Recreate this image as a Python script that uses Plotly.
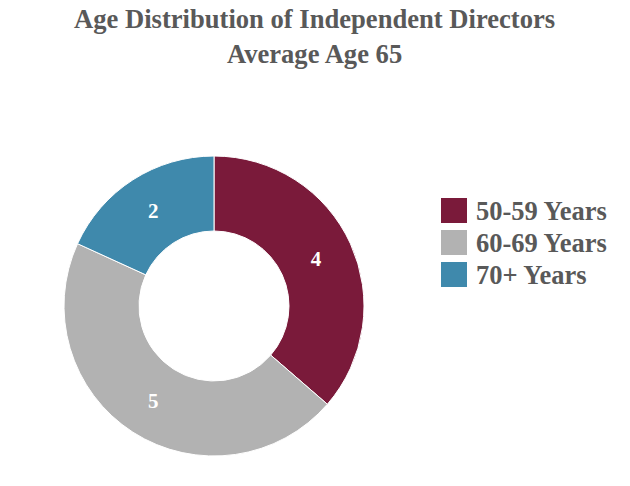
import plotly.graph_objects as go

title_lines = ["Age Distribution of Independent Directors", "Average Age 65"]
labels = ["50-59 Years", "60-69 Years", "70+ Years"]
values = [4, 5, 2]
colors = ["#7A1A3A", "#B2B2B2", "#3F89AC"]

W, H = 630, 486
FONT = "Liberation Serif"
TXT = "#595959"

fig = go.Figure(go.Pie(
    labels=labels, values=values, hole=0.5, sort=False, direction="clockwise", rotation=0,
    marker=dict(colors=colors, line=dict(color="white", width=1)),
    texttemplate="<b>%{value}</b>", textposition="inside", insidetextorientation="horizontal",
    textfont=dict(family=FONT, size=21, color="white"),
    domain=dict(x=[64/W, 364/W], y=[1-456/H, 1-156/H]),
    hoverinfo="label+value", showlegend=False,
))

# title
fig.add_annotation(text="<b>" + "<br>".join(title_lines) + "</b>",
                   xref="paper", yref="paper", x=314/W, y=1-2/H, xanchor="center", yanchor="top",
                   showarrow=False, align="center",
                   font=dict(family=FONT, size=26.6, color=TXT))

# custom legend (large square swatches)
lx, ly0, step, sw = 441, 198, 32, 26
for i, (lab, col) in enumerate(zip(labels, colors)):
    y0 = ly0 + i * step
    fig.add_shape(type="rect", xref="paper", yref="paper",
                  x0=lx/W, x1=(lx+sw)/W, y0=1-(y0+sw-1)/H, y1=1-y0/H,
                  fillcolor=col, line=dict(width=0))
    fig.add_annotation(text="<b>" + lab + "</b>", xref="paper", yref="paper",
                       x=(lx+sw+7)/W, y=1-(y0+sw/2)/H, xanchor="left", yanchor="middle",
                       showarrow=False, font=dict(family=FONT, size=26.5, color=TXT))

fig.update_layout(
    width=W, height=H, margin=dict(l=0, r=0, t=0, b=0),
    paper_bgcolor="white", plot_bgcolor="white",
)
fig.write_html("out.html")
